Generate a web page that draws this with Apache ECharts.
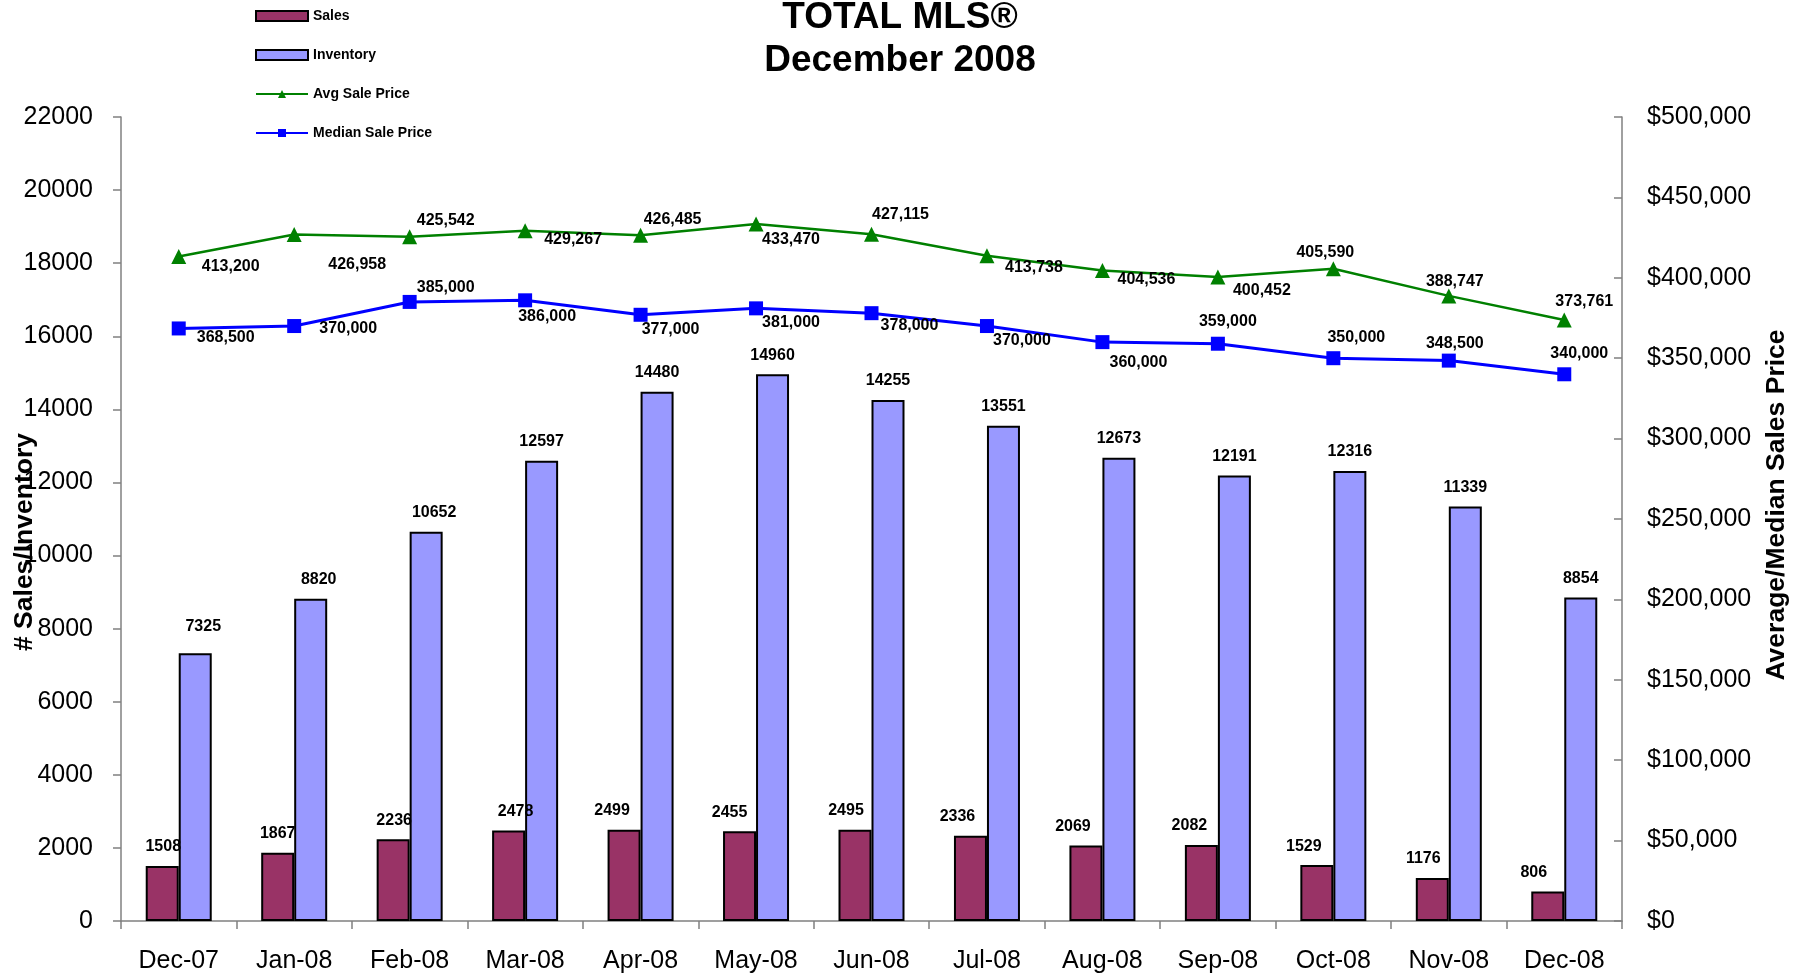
<!DOCTYPE html>
<html>
<head>
<meta charset="utf-8">
<script src="https://cdn.jsdelivr.net/npm/echarts@6/dist/echarts.min.js"></script>
<style>
html,body{margin:0;padding:0;background:#fff;}
#chart{width:1810px;height:978px;}
</style>
</head>
<body>
<div id="chart"></div>
<script>
// ---- data ----
const categories = ['Dec-07','Jan-08','Feb-08','Mar-08','Apr-08','May-08','Jun-08','Jul-08','Aug-08','Sep-08','Oct-08','Nov-08','Dec-08'];
const sales = [1508,1867,2236,2478,2499,2455,2495,2336,2069,2082,1529,1176,806];
const inventory = [7325,8820,10652,12597,14480,14960,14255,13551,12673,12191,12316,11339,8854];
const avgPrice = [413200,426958,425542,429267,426485,433470,427115,413738,404536,400452,405590,388747,373761];
const medianPrice = [368500,370000,385000,386000,377000,381000,378000,370000,360000,359000,350000,348500,340000];

// ---- layout (label offsets, px) ----
const avgLabelOffsets = [[52,10],[63,30],[36,-16],[48,9],[32,-16],[35,16],[29,-20],[47,12],[44,9],[44,14],[-8,-16],[6,-14],[20,-18]];
const medLabelOffsets = [[47,9],[54,3],[36,-14],[22,16],[30,15],[35,14],[38,12],[35,15],[36,20],[10,-22],[23,-21],[6,-17],[15,-21]];
const salesLabelOffsets = [[1,0],[0,0],[1,0],[7,0],[-12,0],[-10,0],[-9,0],[-13,0],[-13,0],[-12,0],[-13,0],[-9,0],[-14,0]];
const invLabelOffsets = [[8,-8],[8,0],[8,0],[0,0],[0,0],[0,0],[0,0],[0,0],[0,0],[0,0],[0,0],[0,0],[0,0]];

const FONT = '"Liberation Sans", Arial, sans-serif';
const fmtNum = v => v.toLocaleString('en-US');

function withOffsets(values, offsets) {
  return values.map((v, i) => ({ value: v, label: { offset: offsets[i] } }));
}

const chart = echarts.init(document.getElementById('chart'));
const axisLineStyle = { color: '#808080', width: 1.5 };
const barLabel = { show: true, position: 'top', distance: 11, fontFamily: FONT, fontSize: 16, fontWeight: 'bold', color: '#000' };

chart.setOption({
  backgroundColor: '#ffffff',
  animation: false,
  textStyle: { fontFamily: FONT },
  title: {
    text: 'TOTAL MLS®\nDecember 2008',
    left: 900,
    textAlign: 'center',
    top: -4,
    padding: 0,
    textStyle: { fontFamily: FONT, fontSize: 37, fontWeight: 'bold', color: '#000', lineHeight: 43 }
  },
  legend: {
    orient: 'vertical',
    left: 250,
    top: 4,
    itemWidth: 52,
    itemHeight: 10,
    itemGap: 25,
    textStyle: { fontFamily: FONT, fontSize: 14, fontWeight: 'bold', color: '#000' },
    data: [
      { name: 'Sales', icon: 'rect' },
      { name: 'Inventory', icon: 'rect' },
      { name: 'Avg Sale Price' },
      { name: 'Median Sale Price' }
    ]
  },
  grid: { left: 121, right: 188, top: 117, bottom: 57, containLabel: false },
  xAxis: {
    type: 'category',
    data: categories,
    boundaryGap: true,
    axisLine: { lineStyle: axisLineStyle },
    axisTick: { show: true, length: 8, lineStyle: axisLineStyle, alignWithLabel: false },
    axisLabel: { fontFamily: FONT, fontSize: 25, color: '#000', margin: 28 },
    splitLine: { show: false }
  },
  yAxis: [
    {
      type: 'value', min: 0, max: 22000, interval: 2000, position: 'left',
      axisLine: { show: true, lineStyle: axisLineStyle },
      axisTick: { show: true, length: 8, lineStyle: axisLineStyle },
      axisLabel: { fontFamily: FONT, fontSize: 25, color: '#000', margin: 28, formatter: v => String(v) },
      splitLine: { show: false }
    },
    {
      type: 'value', min: 0, max: 500000, interval: 50000, position: 'right',
      axisLine: { show: true, lineStyle: axisLineStyle },
      axisTick: { show: true, length: 8, inside: true, lineStyle: axisLineStyle },
      axisLabel: { fontFamily: FONT, fontSize: 25, color: '#000', margin: 25, formatter: v => '$' + fmtNum(v) },
      splitLine: { show: false }
    }
  ],
  graphic: [
    {
      type: 'text', rotation: Math.PI / 2, x: 25, y: 542, z: 100,
      style: { text: '# Sales/Inventory', fontFamily: FONT, fontSize: 26.5, fontWeight: 'bold', fill: '#000', textAlign: 'center', textVerticalAlign: 'middle' }
    },
    {
      type: 'text', rotation: Math.PI / 2, x: 1777, y: 505, z: 100,
      style: { text: 'Average/Median Sales Price', fontFamily: FONT, fontSize: 26.5, fontWeight: 'bold', fill: '#000', textAlign: 'center', textVerticalAlign: 'middle' }
    }
  ],
  series: [
    {
      name: 'Sales', type: 'bar', yAxisIndex: 0, data: withOffsets(sales, salesLabelOffsets),
      barWidth: 33, barGap: '0%',
      itemStyle: { color: '#993366', borderColor: '#000', borderWidth: 2 },
      label: barLabel
    },
    {
      name: 'Inventory', type: 'bar', yAxisIndex: 0, data: withOffsets(inventory, invLabelOffsets),
      barWidth: 33,
      itemStyle: { color: '#9999FF', borderColor: '#000', borderWidth: 2 },
      label: barLabel
    },
    {
      name: 'Avg Sale Price', type: 'line', yAxisIndex: 1,
      data: withOffsets(avgPrice, avgLabelOffsets),
      symbol: 'triangle', symbolSize: 15,
      lineStyle: { color: '#008000', width: 2.5 },
      itemStyle: { color: '#008000' },
      label: { show: true, position: 'inside', formatter: p => fmtNum(p.value), fontFamily: FONT, fontSize: 16, fontWeight: 'bold', color: '#000' },
      z: 5
    },
    {
      name: 'Median Sale Price', type: 'line', yAxisIndex: 1,
      data: withOffsets(medianPrice, medLabelOffsets),
      symbol: 'rect', symbolSize: 14,
      lineStyle: { color: '#0000FF', width: 3 },
      itemStyle: { color: '#0000FF' },
      label: { show: true, position: 'inside', formatter: p => fmtNum(p.value), fontFamily: FONT, fontSize: 16, fontWeight: 'bold', color: '#000' },
      z: 5
    }
  ]
});
</script>
</body>
</html>
